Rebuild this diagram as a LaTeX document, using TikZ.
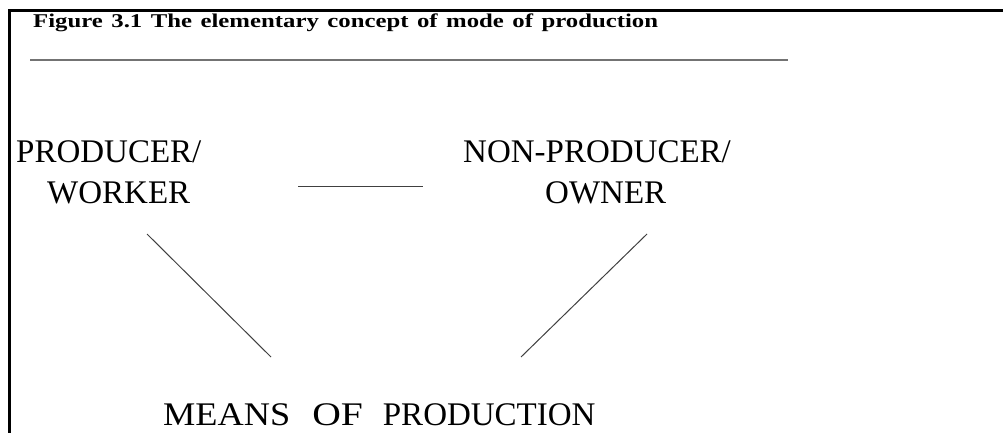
\documentclass[tikz,border=0pt]{standalone}
\usepackage{fontspec}
\setmainfont{Liberation Serif}
\begin{document}
\begin{tikzpicture}[x=1pt,y=-1pt,
  frame/.style={line width=3pt,black},
  rule/.style={line width=1.3pt,black!55},
  link/.style={line width=1pt,black!75},
  label/.style={inner sep=0pt,anchor=base west,font=\fontsize{33}{40}\selectfont},
  caption/.style={inner sep=0pt,anchor=base west,font=\fontsize{19.5}{23}\selectfont\bfseries}]
\useasboundingbox (0,0) rectangle (1003,433);

% frame on the left and top
\draw[frame] (9,433) -- (9,11) -- (1003,11);

% caption (a wide bold face) and the rule under it
\node[caption] (title) at (33,28) {\scalebox{1.27}[1]{\makebox[492pt][s]{Figure 3.1 The elementary concept of mode of production}}};
\draw[rule] (30,60) -- (788,60);

% the three terms
\node[label] (prod1) at (16,162) {PRODUCER/};
\node[label] (prod2) at (47,203) {WORKER};
\node[label] (own1) at (463,162) {NON-PRODUCER/};
\node[label] (own2) at (545,203) {OWNER};
\node[label] (means) at (163,425) {\scalebox{1.1}[1]{MEANS}\hspace{22pt}\scalebox{1.2}[1]{OF}\hspace{20pt}PRODUCTION};

% connector end points
\coordinate (hA) at (298,186);
\coordinate (hB) at (423,186);
\coordinate (lA) at (147,234);
\coordinate (lB) at (271,357);
\coordinate (rA) at (647,234);
\coordinate (rB) at (521,357);

\draw[link] (hA) -- (hB);
\draw[link] (lA) -- (lB);
\draw[link] (rA) -- (rB);
\end{tikzpicture}
\end{document}
